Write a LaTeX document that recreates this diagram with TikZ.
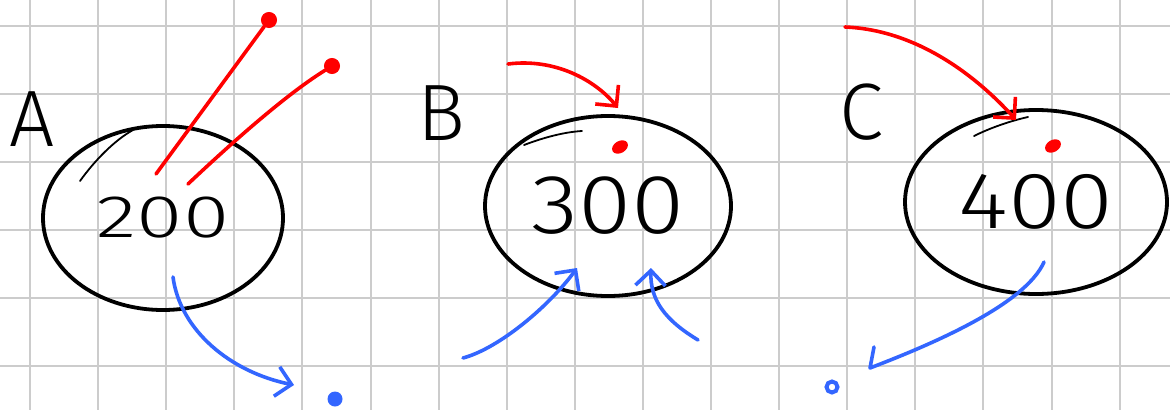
\documentclass[tikz,border=0pt]{standalone}
\usepackage{fontspec}
\setmainfont{Fira Sans}[UprightFont=* Light]
\usetikzlibrary{shapes.geometric,arrows.meta}
\definecolor{inkred}{RGB}{255,0,0}
\definecolor{inkblue}{RGB}{51,102,255}
\definecolor{gridgray}{RGB}{204,204,204}
\begin{document}
\begin{tikzpicture}[x=1pt,y=-1pt,
  gridline/.style={gridgray,line width=2pt},
  blob/.style={ellipse,draw=black,line width=3.8pt,inner sep=0pt},
  letter/.style={font=\fontsize{80}{80}\selectfont,inner sep=0pt},
  sketch/.style={black,line width=1.8pt,line cap=round},
  redline/.style={inkred,line width=3.6pt,line cap=round},
  blueline/.style={inkblue,line width=3.6pt,line cap=round,line join=round},
  rdot/.style={circle,fill=inkred,draw=inkred,line width=1pt,inner sep=0pt,minimum size=15pt},
  rspot/.style={ellipse,fill=inkred,inner sep=0pt,minimum width=17pt,minimum height=12pt,rotate=30},
  bdot/.style={circle,fill=inkblue,inner sep=0pt,minimum size=15pt},
  bring/.style={circle,draw=inkblue,line width=4pt,inner sep=0pt,minimum size=11pt},
  barb/.style={-{Straight Barb[length=15pt,width=30pt]}}
]
\fill[white] (0,0) rectangle (1170,410);
\useasboundingbox (0,0) rectangle (1170,410);
% grid
\foreach \i in {0,...,16} \draw[gridline] ({30+68.1*\i},0) -- ++(0,410);
\foreach \j in {0,...,5} \draw[gridline] (0,{26+68*\j}) -- ++(1170,0);

% ellipses with values
\node[blob,minimum width=240pt,minimum height=184pt] (A) at (163,218)
  {\scalebox{1.4}[1]{\fontsize{60}{60}\selectfont 200}};
\node[blob,minimum width=246pt,minimum height=180pt] (B) at (608,206)
  {\scalebox{1.15}[1]{\fontsize{84}{84}\selectfont 300}};
\node[blob,minimum width=262pt,minimum height=184pt] (C) at (1036,202)
  {\scalebox{1.2}[1]{\fontsize{80}{80}\selectfont 400}};

% letters
\node[letter] (lA) at (32,119) {A};
\node[letter] (lB) at (441,113) {B};
\node[letter] (lC) at (861,112) {C};

% sketch strokes
\draw[sketch] (80,181) .. controls (95,160) and (115,140) .. (133,130);
\draw[sketch] (524,145) .. controls (545,137) and (565,132) .. (582,131);
\draw[sketch] (974,136) .. controls (990,128) and (1010,121) .. (1028,117);

% A: red lines
\node[rdot] (ra1) at (269,20) {};
\node[rdot] (ra2) at (332,66) {};
\coordinate (a1) at (156,174);
\coordinate (a2) at (188,184);
\draw[redline] (a1) -- (ra1);
\draw[redline] (a2) .. controls (240,135) and (290,92) .. (ra2);

% A: blue arrow
\coordinate (ab) at (173,277);
\coordinate (abt) at (294,385);
\node[bdot] (bda) at (335,399) {};
\draw[blueline,barb] (ab) .. controls (180,330) and (230,372) .. (abt);

% B
\node[rspot] (rsb) at (620,147) {};
\coordinate (rbs) at (508,64);
\coordinate (rbt) at (618,108);
\draw[redline,barb] (rbs) .. controls (555,58) and (595,80) .. (rbt);
\coordinate (bl1) at (463,358);
\coordinate (bl1t) at (577,268);
\draw[blueline,barb] (bl1) .. controls (500,348) and (550,305) .. (bl1t);
\coordinate (bl2) at (698,340);
\coordinate (bl2t) at (651,268);
\draw[blueline,barb] (bl2) .. controls (665,320) and (650,300) .. (bl2t);

% C
\node[rspot] (rsc) at (1053,146) {};
\coordinate (rcs) at (845,27);
\coordinate (rct) at (1016,120);
\draw[redline,barb] (rcs) .. controls (920,30) and (980,80) .. (rct);
\coordinate (bc) at (1044,262);
\coordinate (bct) at (870,368);
\coordinate (bch) at (874,347);
\draw[blueline] (bc) .. controls (1025,305) and (930,345) .. (bct) -- (bch);
\node[bring] (brc) at (832,387) {};
\end{tikzpicture}
\end{document}
